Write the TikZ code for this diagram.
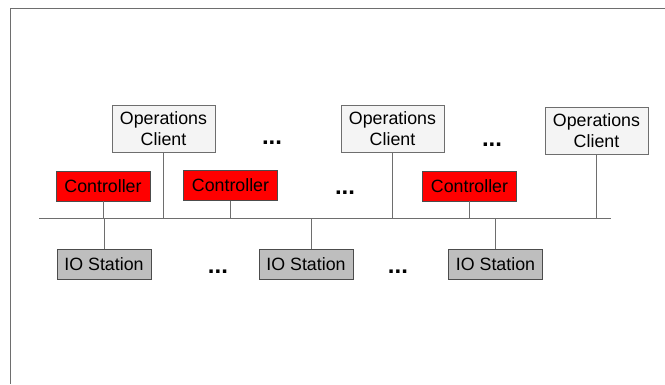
\documentclass[tikz,border=0pt]{standalone}
\usepackage{fontspec}
\setmainfont{Liberation Sans}
\usepackage{tikz}
\usetikzlibrary{positioning,calc}
\usepackage{xcolor}
\definecolor{clientfill}{HTML}{F4F4F4}
\definecolor{iofill}{HTML}{BEBEBE}
\definecolor{ctrlfill}{HTML}{FF0000}
\definecolor{wire}{HTML}{6E6E6E}

\begin{document}
\begin{tikzpicture}[x=1pt, y=-1pt,
    client/.style={draw=wire, fill=clientfill, align=center,
                   minimum width=103pt, minimum height=47pt, inner sep=0pt,
                   font=\fontsize{17.8}{21}\selectfont},
    ctrl/.style={draw=black!70, fill=ctrlfill,
                 minimum width=94pt, minimum height=30pt, inner sep=0pt,
                 font=\fontsize{17.8}{21}\selectfont},
    iost/.style={draw=black!70, fill=iofill,
                 minimum width=94pt, minimum height=30pt, inner sep=0pt,
                 font=\fontsize{17.8}{21}\selectfont},
    dots/.style={font=\fontsize{24}{26}\selectfont\bfseries, inner sep=0pt},
    link/.style={draw=wire, line width=0.9pt}
  ]
  \useasboundingbox (0,0) rectangle (665,384);
  %% Frame
  \draw[wire, line width=1pt] (665,8) -- (10,8) -- (10,384);
  %% Operations clients
  \node[client] (op1) at (163.5,129) {Operations\\Client};
  \node[client] (op2) at (392.5,129) {Operations\\Client};
  \node[client] (op3) at (596.5,131) {Operations\\Client};
  \node[dots] (d1) at (272,143) {...};
  \node[dots] (d2) at (492,145) {...};
  %% Controllers
  \node[ctrl] (c1) at (103,186) {Controller};
  \node[ctrl] (c2) at (230.5,185.5) {Controller};
  \node[ctrl] (c3) at (469.5,186) {Controller};
  \node[dots] (d3) at (345,193) {...};
  %% Bus
  \coordinate (busL) at (39,218);
  \coordinate (busR) at (611,218);
  \draw[link] (busL) -- (busR);
  %% IO stations
  \node[iost] (io1) at (104,264) {IO Station};
  \node[iost] (io2) at (306,264) {IO Station};
  \node[iost] (io3) at (495.5,264) {IO Station};
  \node[dots] (d4) at (218,272) {...};
  \node[dots] (d5) at (398,272) {...};
  %% Drops to the bus
  \foreach \n in {op1,op2,op3,c1,c2,c3}
    \draw[link] (\n.south) -- (\n.south |- busL);
  \draw[link] (io1.north) -- (io1.north |- busL);
  \draw[link] ([xshift=5.5pt]io2.north) -- ([xshift=5.5pt]io2.north |- busL);
  \draw[link] (io3.north) -- (io3.north |- busL);
\end{tikzpicture}
\end{document}
